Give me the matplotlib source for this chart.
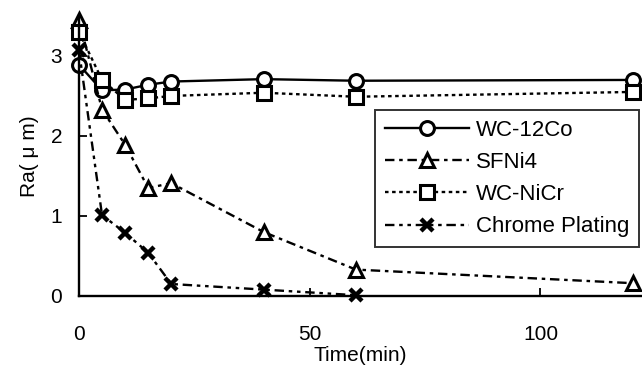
import numpy as np
import matplotlib.pyplot as plt

plt.rcParams['font.family'] = ['Liberation Sans', 'DejaVu Sans']

# Время испытания, мин
time = [0, 5, 10, 15, 20, 40, 60, 120]
time_cr = [0, 5, 10, 15, 20, 40, 60]

# Шероховатость Ra, мкм
wc12co = [2.89, 2.57, 2.58, 2.64, 2.68, 2.71, 2.69, 2.70]
sfni4 = [3.45, 2.33, 1.89, 1.35, 1.41, 0.80, 0.33, 0.16]
wcnicr = [3.30, 2.70, 2.45, 2.47, 2.50, 2.54, 2.49, 2.55]
chrome = [3.07, 1.01, 0.79, 0.54, 0.15, 0.08, 0.01]

labels = ['WC-12Co', 'SFNi4', 'WC-NiCr', 'Chrome Plating']

fig = plt.figure(figsize=(6.42, 3.79), dpi=100)
ax = fig.add_axes([0.123, 0.219, 0.877, 0.739])

mk = dict(color='black', markerfacecolor='white', markeredgecolor='black',
          markersize=10, markeredgewidth=2.2, linewidth=1.7, clip_on=False)

ax.plot(time, wc12co, marker='o', linestyle='-', label=labels[0], **mk)
ax.plot(time, sfni4, marker='^', dashes=[4, 2, 1.5, 2], label=labels[1], **mk)
ax.plot(time, wcnicr, marker='s', dashes=[1.5, 1.5], label=labels[2], **mk)
ax.plot(time_cr, chrome, marker='x', dashes=[4, 2, 1.5, 2, 1.5, 2],
        label=labels[3], color='black', markersize=9, markeredgewidth=3.2,
        linewidth=1.7, clip_on=False)

ax.set_xlim(0, 122)
ax.set_ylim(0, 3.5)
ax.set_xticks([0, 50, 100])
ax.set_yticks([0, 1, 2, 3])
ax.tick_params(direction='in', length=6, width=1.3, labelsize=15, pad=12)
ax.tick_params(axis='x', pad=21)
ax.spines['top'].set_visible(False)
ax.spines['right'].set_visible(False)
ax.spines['left'].set_linewidth(1.7)
ax.spines['bottom'].set_linewidth(1.7)

ax.set_xlabel('Time(min)', fontsize=15, labelpad=1)
ax.set_ylabel('Ra( μ m)', fontsize=15, labelpad=8)

leg = ax.legend(loc='upper right', bbox_to_anchor=(0.995, 0.664), fontsize=16,
                frameon=True, fancybox=False, edgecolor='black',
                handlelength=3.8, borderpad=0.45, labelspacing=0.5,
                handletextpad=0.3, borderaxespad=0)
leg.get_frame().set_linewidth(1.4)

fig.savefig('out.png', dpi=100)
